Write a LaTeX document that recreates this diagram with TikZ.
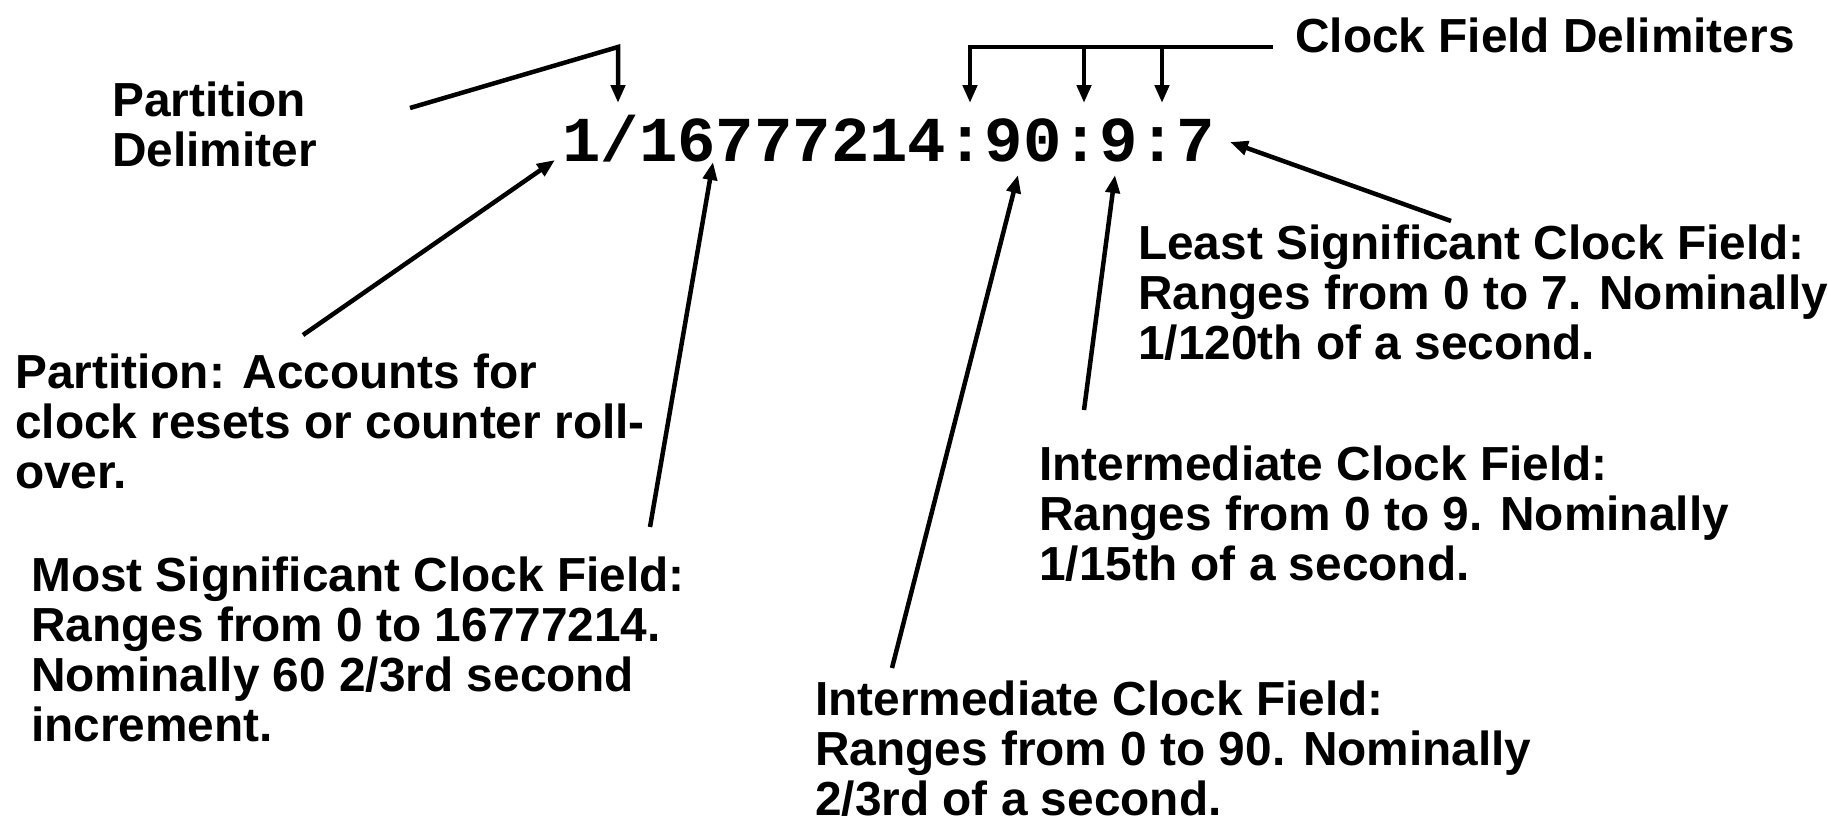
\documentclass[tikz,border=0pt]{standalone}
\usepackage{fontspec}
\setmainfont{Liberation Sans}
\newfontfamily\codefont{Liberation Mono}
\usetikzlibrary{arrows.meta}
\begin{document}
\begin{tikzpicture}[x=1pt,y=-1pt,
  lbl/.style={anchor=base west,align=left,inner sep=0pt,font=\fontsize{47.8}{50}\selectfont\bfseries},
  conn/.style={line width=4.5pt,-{Triangle[length=18pt,width=14pt]}}]
\useasboundingbox[fill=white] (0,0) rectangle (1828,827);
% main string
\node[anchor=base west,inner sep=0pt,font=\fontsize{64}{70}\selectfont\codefont\bfseries] (str) at (562,161) {1/16777214:90:9:7};
% labels (positioned by the baseline of their last line)
\node[lbl] (pd) at (112,166) {Partition\\Delimiter};
\node[lbl] (cfd) at (1295,52) {Clock Field Delimiters};
\node[lbl] (part) at (15,488) {Partition: Accounts for\\clock resets or counter roll-\\over.};
\node[lbl] (most) at (31,741) {Most Significant Clock Field:\\Ranges from 0 to 16777214.\\Nominally 60 2/3rd second\\increment.};
\node[lbl,text depth=0pt] (i90) at (815,815) {Intermediate Clock Field:\\Ranges from 0 to 90. Nominally\\2/3rd of a second.};
\node[lbl] (i9) at (1039,580) {Intermediate Clock Field:\\Ranges from 0 to 9. Nominally\\1/15th of a second.};
\node[lbl] (least) at (1138,359) {Least Significant Clock Field:\\Ranges from 0 to 7. Nominally\\1/120th of a second.};
% connector coordinates
\coordinate (pdS) at (410,108);
\coordinate (pdK) at (618,47);
\coordinate (pdT) at (618,103);
\coordinate (cfdS) at (1273,47);
\coordinate (cfdK) at (970,47);
\coordinate (c1T) at (970,103);
\coordinate (c2S) at (1084,47);
\coordinate (c2T) at (1084,103);
\coordinate (c3S) at (1162,47);
\coordinate (c3T) at (1162,103);
\coordinate (partS) at (303,335);
\coordinate (partT) at (555,160);
\coordinate (mostS) at (650,527);
\coordinate (mostT) at (713,162);
\coordinate (i90S) at (892,668);
\coordinate (i90T) at (1018,175);
\coordinate (i9S) at (1084,410);
\coordinate (i9T) at (1115,175);
\coordinate (leastS) at (1451,221);
\coordinate (leastT) at (1230,142);
% connectors
\draw[conn] (pdS) -- (pdK) -- (pdT);
\draw[conn] (cfdS) -- (cfdK) -- (c1T);
\draw[conn] (c2S) -- (c2T);
\draw[conn] (c3S) -- (c3T);
\draw[conn] (partS) -- (partT);
\draw[conn] (mostS) -- (mostT);
\draw[conn] (i90S) -- (i90T);
\draw[conn] (i9S) -- (i9T);
\draw[conn] (leastS) -- (leastT);
\end{tikzpicture}
\end{document}
